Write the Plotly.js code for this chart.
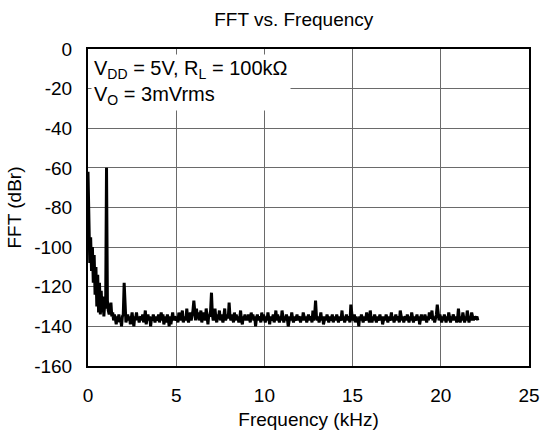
<!DOCTYPE html>
<html>
<head>
<meta charset="utf-8">
<script src="https://cdn.plot.ly/plotly-3.0.1.min.js"></script>
<style>html,body{margin:0;padding:0;background:#fff}#chart{width:544px;height:437px}</style>
</head>
<body>
<div id="chart"></div>
<script>
// FFT bins, 0.05 kHz apart, starting at 0 kHz (rows of 20 bins = 1 kHz)
const binStartKHz = 0;
const binWidthKHz = 0.05;
const fftDbr = [
  -62, -96, -108, -95, -112, -100, -118, -104, -124, -110, -130, -114, -133, -118, -134, -122, -133, -125, -135, -128,
  -131, -60, -127, -132, -134, -131, -128, -135, -133, -137, -134, -136, -139, -135, -137, -134, -138, -136, -140, -135,
  -134, -118, -133, -138, -136, -134, -137, -135, -139, -136, -133, -137, -140, -135, -136, -133, -137, -135, -138, -136,
  -135, -137, -134, -138, -136, -132, -139, -136, -134, -137, -135, -140, -136, -137, -134, -136, -138, -135, -137, -136,
  -134, -138, -136, -133, -137, -134, -139, -136, -135, -138, -134, -136, -140, -135, -139, -136, -133, -137, -135, -136,
  -137, -135, -138, -133, -136, -137, -135, -132, -138, -136, -135, -137, -131, -136, -138, -135, -133, -137, -135, -132,
  -127, -135, -137, -131, -136, -133, -137, -135, -132, -138, -136, -133, -135, -137, -131, -136, -139, -134, -135, -132,
  -123, -134, -137, -135, -131, -136, -138, -134, -136, -132, -137, -134, -136, -138, -135, -131, -137, -135, -134, -136,
  -128, -135, -137, -134, -136, -138, -133, -137, -134, -136, -135, -138, -136, -132, -137, -139, -135, -136, -134, -137,
  -135, -137, -134, -136, -138, -133, -136, -134, -137, -135, -140, -136, -134, -137, -135, -136, -138, -133, -137, -134,
  -136, -138, -135, -137, -133, -136, -139, -135, -137, -136, -134, -138, -136, -132, -137, -134, -136, -138, -135, -137,
  -132, -136, -138, -135, -137, -134, -136, -140, -136, -135, -137, -133, -136, -138, -135, -137, -136, -134, -137, -135,
  -136, -138, -135, -137, -133, -136, -137, -135, -138, -136, -134, -137, -135, -136, -138, -132, -137, -134, -127, -135,
  -137, -135, -138, -136, -133, -137, -135, -139, -136, -135, -137, -134, -136, -138, -135, -137, -136, -134, -138, -136,
  -135, -137, -134, -136, -138, -135, -137, -136, -132, -137, -135, -138, -136, -134, -137, -135, -136, -138, -129, -135,
  -137, -136, -134, -138, -135, -137, -136, -140, -135, -137, -134, -136, -138, -135, -137, -136, -133, -137, -135, -138,
  -132, -136, -138, -135, -137, -134, -136, -138, -135, -137, -136, -134, -137, -135, -139, -136, -135, -137, -134, -136,
  -138, -135, -137, -136, -133, -137, -135, -138, -136, -134, -137, -135, -136, -138, -132, -136, -137, -135, -138, -136,
  -135, -137, -134, -136, -138, -135, -137, -133, -136, -138, -135, -137, -136, -134, -137, -135, -139, -136, -134, -137,
  -135, -137, -134, -136, -138, -135, -137, -133, -136, -135, -132, -137, -135, -138, -136, -134, -129, -135, -137, -134,
  -136, -138, -135, -137, -134, -136, -138, -135, -137, -133, -136, -138, -135, -137, -134, -136, -137, -135, -138, -136,
  -131, -136, -138, -135, -137, -133, -136, -138, -135, -137, -132, -136, -138, -135, -137, -133, -136, -137, -135, -136,
  -136, -135, -137
];
const xTickVals = [0, 5, 10, 15, 20, 25];
const yTickVals = [0, -20, -40, -60, -80, -100, -120, -140, -160];
const chartTitle = 'FFT vs. Frequency';
const xTitle = 'Frequency (kHz)';
const yTitle = 'FFT (dBr)';
const conditionText = 'V<sub>DD</sub> = 5V, R<sub>L</sub> = 100kΩ<br>V<sub>O</sub> = 3mVrms';

const freqKHz = fftDbr.map((_, i) => +(binStartKHz + i * binWidthKHz).toFixed(2));

const font = 'Liberation Sans, Arial, sans-serif';
const trace = {
  x: freqKHz, y: fftDbr, type: 'scatter', mode: 'lines',
  line: {color: '#000', width: 3}, hoverinfo: 'skip'
};
const layout = {
  width: 544, height: 437,
  margin: {l: 88, r: 15, t: 49, b: 71},
  paper_bgcolor: '#fff', plot_bgcolor: '#fff',
  showlegend: false,
  font: {family: font, size: 19, color: '#000'},
  title: {text: chartTitle, x: 0.54, xref: 'container', xanchor: 'center', y: 0.955, yref: 'container', yanchor: 'middle', font: {family: font, size: 19, color: '#000'}},
  xaxis: {
    range: [0, 25], tickvals: xTickVals, ticktext: xTickVals.map(String),
    showgrid: true, gridcolor: '#6a6a6a', gridwidth: 1,
    zeroline: false, showline: true, linecolor: '#000', linewidth: 2, mirror: true,
    ticks: 'outside', ticklen: 11, tickcolor: 'rgba(0,0,0,0)',
    tickfont: {family: font, size: 19, color: '#000'},
    title: {text: xTitle, font: {family: font, size: 19, color: '#000'}, standoff: 8},
    fixedrange: true
  },
  yaxis: {
    range: [-160, 0], tickvals: yTickVals, ticktext: yTickVals.map(String),
    showgrid: true, gridcolor: '#6a6a6a', gridwidth: 1,
    zeroline: false, showline: true, linecolor: '#000', linewidth: 2, mirror: true,
    ticks: 'outside', ticklen: 10, tickcolor: 'rgba(0,0,0,0)',
    tickfont: {family: font, size: 19, color: '#000'},
    title: {text: yTitle, font: {family: font, size: 19, color: '#000'}, standoff: 8},
    fixedrange: true
  },
  annotations: [{
    text: conditionText, xref: 'paper', yref: 'paper', x: 0.007, y: 0.985,
    xanchor: 'left', yanchor: 'top', align: 'left', showarrow: false,
    bgcolor: '#fff', borderpad: 2, font: {family: font, size: 20, color: '#000'}
  }]
};
Plotly.newPlot('chart', [trace], layout, {staticPlot: true, displayModeBar: false});
</script>
</body>
</html>
